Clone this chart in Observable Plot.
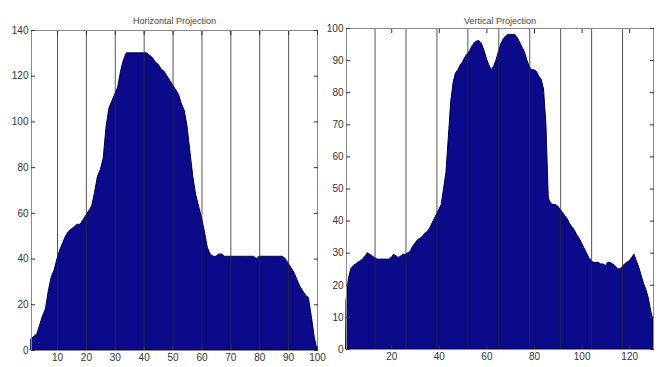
<!DOCTYPE html>
<html><head><meta charset="utf-8">
<script src="https://cdn.jsdelivr.net/npm/d3@7"></script>
<script src="https://cdn.jsdelivr.net/npm/@observablehq/plot@0.6"></script>
<style>
body{margin:0;background:#fff;}
#wrap{position:relative;width:661px;height:367px;overflow:hidden;background:#fff;}
#left{position:absolute;left:0;top:0;}
#right{position:absolute;left:322px;top:0;}
</style></head><body><div id="wrap"><div id="left"></div><div id="right"></div></div>
<script>
// ---- Horizontal projection (left) ----
const hTitle = "Horizontal Projection";
const hValues = [5,6,7,11,15,18,26,32,35,40,
  44,47,50,52,53,54,55,55,57,59,
  61,63,69,76,79,84,98,106,109,112,
  115,122,127,130,130,130,130,130,130,130,
  130,129,128,126,125,123,122,120,118,116,
  114,112,108,105,98,87,76,68,63,58,
  52,45,42,41,41,42,42,41,41,41,
  41,41,41,41,41,41,41,41,40,41,
  41,41,41,41,41,41,41,41,40,38,
  36,34,31,28,26,24,23,15,6,0];
const hXTicks = [10,20,30,40,50,60,70,80,90,100];
const hYTicks = [0,20,40,60,80,100,120,140];
const hGrid = [10,20,30,40,50,60,70,80,90];

// ---- Vertical projection (right) ----
const vTitle = "Vertical Projection";
const vValues = [15,22,25,26,26.5,27,27.5,28,29,30,
  29.5,29,28.5,28,28,28,28,28,28,28.5,
  29.5,29,28.5,29,29.5,29.5,30,30.5,32,33,
  34,34.5,35,36,36.5,37.5,39,40.5,42,43.5,
  45,50,55,66,77,83,86,87,88.5,89.5,
  91,92,93,94.5,95.5,96,96,95,93,90.5,
  88.5,87,88,90,92.5,95,96.5,97.5,98,98,
  98,98,97,95.5,94,92.5,90,88,87,87,
  86.5,85,84,81,70,47,45.5,45,45,44.5,
  43.5,42.5,41.5,40.5,39,38,37,35.5,34.5,33,
  31.5,30,28.5,27.5,27,27,27,26.5,26.5,26,
  27,27,26.5,26,25,25,25.5,26.5,27,27.5,
  28.5,29.5,27.5,25.5,23,20.5,18.5,16,12,9];
const vXTicks = [20,40,60,80,100,120];
const vYTicks = [0,10,20,30,40,50,60,70,80,90,100];
const vGrid = [13,26,39,52,65,78,91,104,117];

function projection(o) {
  const data = o.values.map((v, i) => ({x: i + 1, y: v}));
  return Plot.plot({
    width: o.width, height: 367,
    marginLeft: o.ml, marginRight: o.mr, marginTop: o.mt, marginBottom: o.mb,
    style: {fontFamily: "'Liberation Sans', Arial, sans-serif", fontSize: "10px", color: "#333", background: "transparent"},
    x: {domain: o.xDomain},
    y: {domain: o.yDomain},
    marks: [
      Plot.areaY(data, {x: "x", y: "y", fill: "#0a0a8a", stroke: "#00004a", strokeWidth: 1}),
      Plot.ruleX(o.grid, {stroke: "#2a2a2a", strokeOpacity: 0.8, strokeWidth: 1}),
      Plot.frame({stroke: "#8a8a8a"}),
      Plot.axisX(o.xTicks, {anchor: "bottom", tickSize: -4, tickPadding: 7, label: null}),
      Plot.axisX(o.xTicks, {anchor: "top", tickSize: -4, tickFormat: () => "", label: null}),
      Plot.axisY(o.yTicks, {anchor: "left", tickSize: -4, tickPadding: 7, label: null}),
      Plot.axisY(o.yTicks, {anchor: "right", tickSize: -4, tickFormat: () => "", label: null}),
      Plot.text([o.title], {frameAnchor: "top", dy: -(o.mt - 17), fontSize: 9, fill: "#444"})
    ]
  });
}

document.getElementById("left").appendChild(projection({
  values: hValues, title: hTitle, width: 330, ml: 31, mr: 13, mt: 30, mb: 17,
  xDomain: [1, 100], yDomain: [0, 140], xTicks: hXTicks, yTicks: hYTicks, grid: hGrid
}));
document.getElementById("right").appendChild(projection({
  values: vValues, title: vTitle, width: 339, ml: 24, mr: 8, mt: 28, mb: 18,
  xDomain: [1, 130], yDomain: [0, 100], xTicks: vXTicks, yTicks: vYTicks, grid: vGrid
}));
</script></body></html>
